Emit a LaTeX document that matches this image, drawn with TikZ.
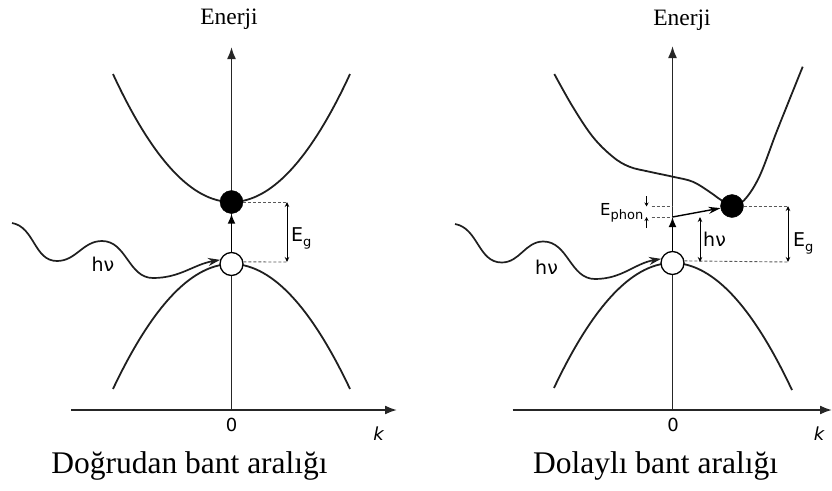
\documentclass[tikz,border=0pt]{standalone}
\usepackage{fontspec}
\setmainfont{Liberation Serif}
\newfontfamily\labfont{DejaVu Sans}
\usetikzlibrary{arrows.meta}
\newcommand\mysub[1]{\raisebox{-4.5pt}{\fontsize{13}{13}\selectfont #1}}
\begin{document}
\begin{tikzpicture}[x=1pt,y=-1pt,
  band/.style={line width=1.8pt, black!88},
  axisline/.style={line width=1.8pt, black!85, -{Latex[length=12pt,width=9pt]}},
  photon/.style={line width=1.7pt, black!88, -{Stealth[length=12pt,width=8pt]}},
  vertarrow/.style={line width=1.8pt, -{Latex[length=10pt,width=8pt]}},
  phonarrow/.style={line width=1.4pt, -{Stealth[length=12pt,width=7pt]}},
  guide/.style={line width=0.9pt, dash pattern=on 3pt off 2pt, black!65},
  gap/.style={line width=1pt, {Stealth[length=5pt,width=4.5pt]}-{Stealth[length=5pt,width=4.5pt]}},
  tinyarrow/.style={line width=0.8pt, -{Stealth[length=4pt,width=4pt]}},
  elec/.style={circle, fill=black, draw=black, minimum size=23pt, inner sep=0pt},
  hole/.style={circle, fill=white, draw=black, line width=1.3pt, minimum size=23pt, inner sep=0pt},
  lbl/.style={font=\labfont\fontsize{19}{19}\selectfont, inner sep=0pt, anchor=base west},
  axlbl/.style={font=\labfont\fontsize{18}{18}\selectfont, inner sep=0pt, anchor=base},
  titletext/.style={font=\fontsize{23.5}{24}\selectfont, anchor=base, inner sep=0pt},
  captext/.style={font=\fontsize{31.5}{32}\selectfont, anchor=base, inner sep=0pt},
]
\useasboundingbox (0,0) rectangle (832,490);

% ---------------- left: direct gap ----------------
\coordinate (L0) at (231.5,410);
\coordinate (Ltop) at (231.5,47);
\coordinate (Lkl) at (71,410);
\coordinate (Lkr) at (397,410);
\draw[axisline] (Lkl) -- (Lkr);
\draw[axisline] (L0) -- (Ltop);
\draw[band, domain=113:350, samples=80] plot (\x, {202 - 0.00911*(\x-231.5)^2});
\draw[band, domain=113:350, samples=80] plot (\x, {264 + 0.0089*(\x-231.5)^2});
\node[elec] (Lc) at (231.5,202) {};
\node[hole] (Lv) at (231.5,264) {};
\draw[vertarrow] (Lv) -- (Lc);
\coordinate (Lg1) at (287,202);
\coordinate (Lg2) at (287,262);
\draw[guide] (Lc.east) -- (Lg1);
\draw[guide] (Lv.10) -- (Lg2);
\draw[gap] (Lg1) -- (Lg2);
\node[lbl] (LEg) at (291,241.5) {E\mysub{g}};
\coordinate (Lp0) at (12,223);
\draw[photon] (Lp0) to[out=-10,in=180] (57,261) to[out=0,in=180] (102,241)
  to[out=0,in=180] (153,278) to[out=0,in=190] (Lv.160);
\node[lbl] (Lhv) at (91.5,271.5) {hν};
\node[axlbl] (Lzero) at (231.5,431.5) {0};
\node[axlbl, font=\labfont\itshape\fontsize{18}{18}\selectfont] (Lk) at (378.5,440) {k};
\node[titletext] (Lt) at (229,24) {Enerji};
\node[captext] (Lcap) at (189.5,473) {Doğrudan bant aralığı};

% ---------------- right: indirect gap ----------------
\coordinate (R0) at (672.5,410);
\coordinate (Rtop) at (672.5,46);
\coordinate (Rkl) at (512.5,410);
\coordinate (Rkr) at (832,410);
\draw[axisline] (Rkl) -- (Rkr);
\draw[axisline] (R0) -- (Rtop);
\draw[band, domain=554:792, samples=80] plot (\x, {263 + 0.0089*(\x-672.5)^2});
\draw[band] plot[smooth, tension=0.6] coordinates {
  (554.3,74) (572.7,106.7) (592.7,136.7) (612.7,156.7) (629.3,166.7)
  (649.3,171.7) (672.7,176.7) (692.7,181.7) (709.3,191.7) (721,200)
  (732,206) (744.3,200) (759.3,176.7) (776,133.3) (789.3,100) (802.7,66.7)};
\node[elec] (Rc) at (732,206) {};
\node[hole] (Rv) at (672.5,263) {};
\coordinate (Rph) at (672.5,217);
\draw[vertarrow] (Rv) -- (Rph);
\draw[phonarrow] (Rph) -- (Rc);
% phonon energy marks
\coordinate (Ep1) at (651.5,206.5);
\coordinate (Ep1r) at (672.5,206.5);
\coordinate (Ep2) at (651.5,217);
\draw[guide] (Ep1) -- (Ep1r);
\draw[guide] (Ep2) -- (Rph);
\coordinate (Ea1) at (646.5,196);
\coordinate (Ea1e) at (646.5,206.5);
\coordinate (Ea2) at (646.5,228);
\coordinate (Ea2e) at (646.5,217);
\draw[tinyarrow] (Ea1) -- (Ea1e);
\draw[tinyarrow] (Ea2) -- (Ea2e);
\node[lbl, anchor=base east, font=\labfont\fontsize{16.5}{16.5}\selectfont] (REp) at (643.5,215)
  {E\raisebox{-4pt}{\fontsize{13}{13}\selectfont phon}};
% gap marks
\coordinate (Rg1) at (788,206);
\coordinate (Rg2) at (788,262);
\coordinate (Rh1) at (700,217);
\coordinate (Rh2) at (700,262);
\draw[guide] (Rc.east) -- (Rg1);
\draw[guide] (Rv.10) -- (Rg2);
\draw[gap] (Rg1) -- (Rg2);
\draw[gap] (Rh1) -- (Rh2);
\node[lbl] (REg) at (793,246.5) {E\mysub{g}};
\node[lbl] (Rhv2) at (703,246) {hν};
\coordinate (Rp0) at (455,224);
\draw[photon] (Rp0) to[out=-10,in=180] (501.7,262.5) to[out=0,in=180] (543.3,241.5)
  to[out=0,in=180] (595,279) to[out=0,in=190] (Rv.160);
\node[lbl] (Rhv) at (535,274.5) {hν};
\node[axlbl] (Rzero) at (673,431.5) {0};
\node[axlbl, font=\labfont\itshape\fontsize{18}{18}\selectfont] (Rk) at (819,440) {k};
\node[titletext] (Rt) at (682,25) {Enerji};
\node[captext] (Rcap) at (655.5,473) {Dolaylı bant aralığı};
\end{tikzpicture}
\end{document}
